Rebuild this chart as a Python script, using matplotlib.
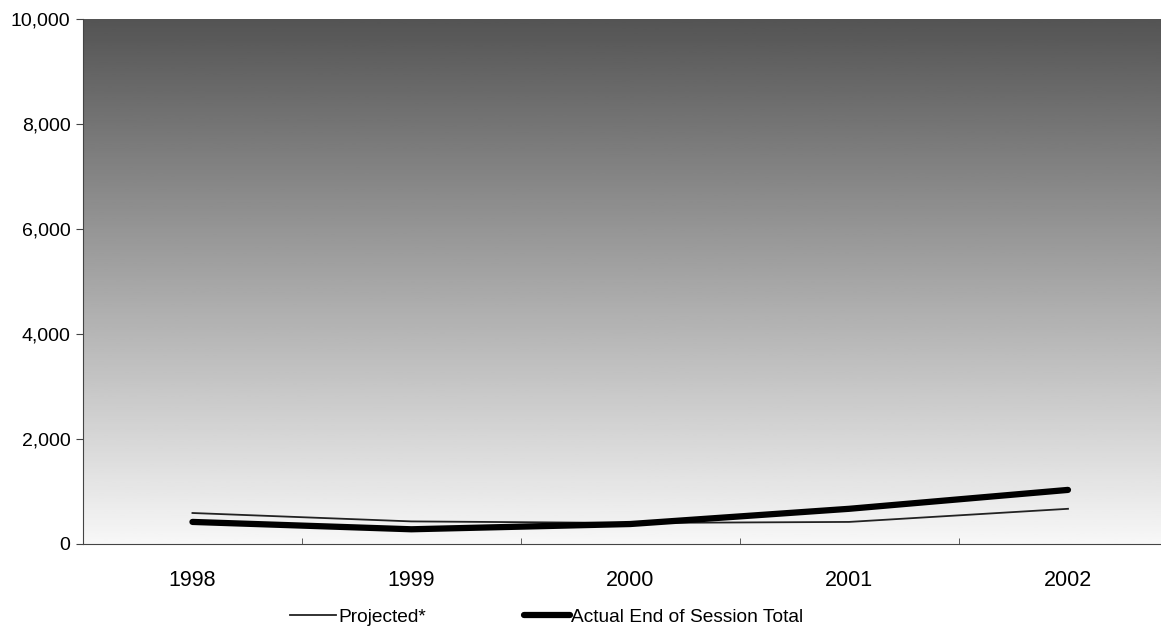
import numpy as np
import matplotlib
matplotlib.use("Agg")
import matplotlib.pyplot as plt
from matplotlib.ticker import FuncFormatter, FixedLocator

plt.rcParams['font.family'] = ['Liberation Sans', 'DejaVu Sans']

# data
years = ['1998', '1999', '2000', '2001', '2002']
projected = [590, 430, 400, 420, 670]
actual = [420, 280, 380, 670, 1030]

fig = plt.figure(figsize=(11.61, 6.28), dpi=100)
ax = fig.add_axes([0.0715, 0.1338, 0.9285, 0.8359])

x = np.arange(len(years))
ax.set_xlim(-0.5, 4.425)
ax.set_ylim(0, 10000)

# gray gradient background, dark at top -> near white at bottom
grad = np.linspace(0.97, 0.33, 256).reshape(-1, 1)
ax.imshow(grad, cmap='gray', vmin=0, vmax=1, aspect='auto',
          extent=[-0.5, 4.425, 0, 10000], origin='lower', zorder=0)

ax.plot(x, projected, color='#222222', lw=1.3, label='Projected*', zorder=3)
ax.plot(x, actual, color='black', lw=4.5, solid_capstyle='round',
        label='Actual End of Session Total', zorder=4)

ax.set_xticks(x)
ax.set_xticklabels(years, fontsize=15.5)
ax.xaxis.set_minor_locator(FixedLocator(np.arange(0.5, 4.5, 1)))
ax.tick_params(axis='x', which='major', length=0, pad=19)
ax.tick_params(axis='x', which='minor', length=4, direction='in', color='#444444')

ax.set_yticks(np.arange(0, 10001, 2000))
ax.yaxis.set_major_formatter(FuncFormatter(lambda v, p: f'{int(v):,}'))
ax.tick_params(axis='y', length=5, labelsize=14, pad=4, color='#444444')

for s in ['top', 'right']:
    ax.spines[s].set_visible(False)
ax.spines['left'].set_color('#444444')
ax.spines['bottom'].set_color('#444444')

leg = fig.legend(loc='lower center', bbox_to_anchor=(0.471, -0.024), ncol=2,
                 frameon=False, fontsize=13.8, handlelength=2.4,
                 handletextpad=0.1, columnspacing=5.1)

fig.savefig('out.png', dpi=100)
